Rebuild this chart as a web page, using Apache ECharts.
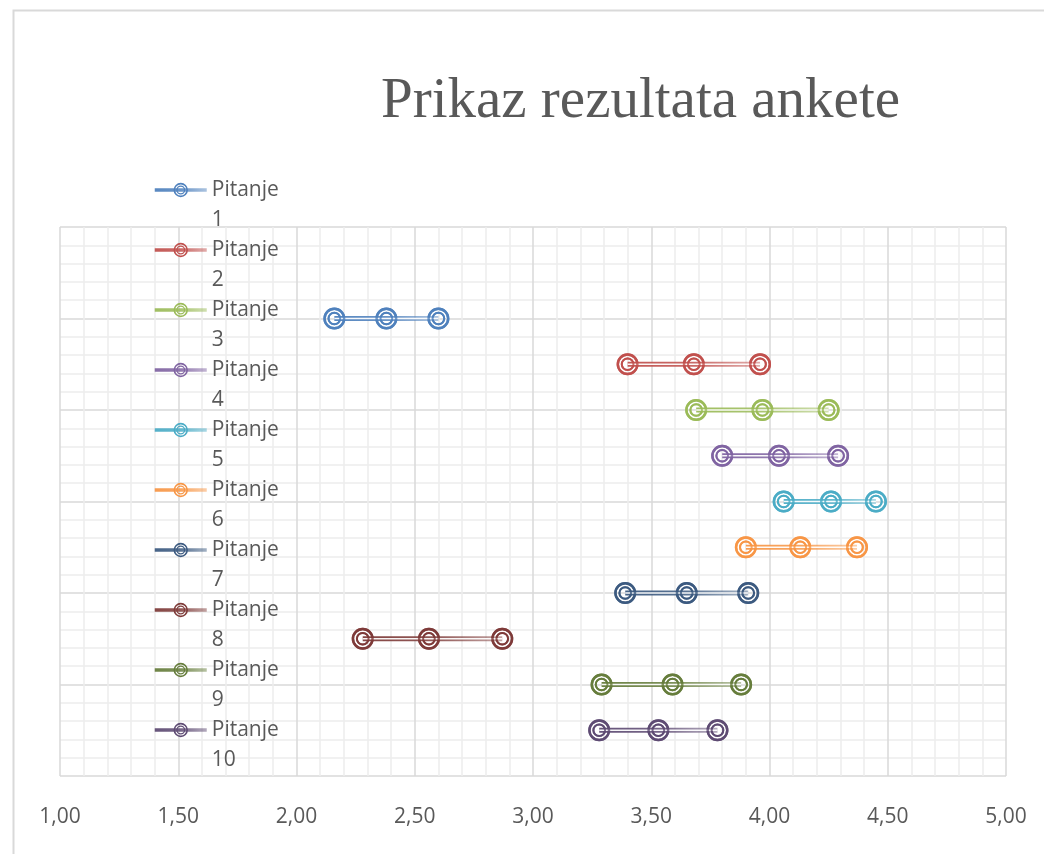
<!DOCTYPE html>
<html>
<head>
<meta charset="utf-8">
<script src="https://cdn.jsdelivr.net/npm/echarts@6/dist/echarts.min.js"></script>
<style>
html,body{margin:0;padding:0;background:#fff;}
#main{width:1044px;height:854px;}
</style>
</head>
<body>
<div id="main"></div>
<script>
// ---- data ----
const questions = ['Pitanje 1','Pitanje 2','Pitanje 3','Pitanje 4','Pitanje 5','Pitanje 6','Pitanje 7','Pitanje 8','Pitanje 9','Pitanje 10'];
const yValues = [1, 1.5, 2, 2.5, 3, 3.5, 4, 4.5, 5, 5.5];
const lowValues  = [2.16, 3.40, 3.69, 3.80, 4.06, 3.90, 3.39, 2.28, 3.29, 3.28];
const midValues  = [2.38, 3.68, 3.97, 4.04, 4.26, 4.13, 3.65, 2.56, 3.59, 3.53];
const highValues = [2.60, 3.96, 4.25, 4.29, 4.45, 4.37, 3.91, 2.87, 3.88, 3.78];
const xTickLabels = ['1,00','1,50','2,00','2,50','3,00','3,50','4,00','4,50','5,00'];
const titleText = 'Prikaz rezultata ankete';
const colors = ['#4F81BD','#C0504D','#9BBB59','#8064A2','#4BACC6','#F79646','#3C5A80','#7E3B39','#667D3C','#5E4B73'];

function rgba(hex, a) {
  const n = parseInt(hex.slice(1), 16);
  return 'rgba(' + ((n >> 16) & 255) + ',' + ((n >> 8) & 255) + ',' + (n & 255) + ',' + a + ')';
}

const ringPath = 'path://' +
  'M50 0A50 50 0 1 1 50 100A50 50 0 1 1 50 0Z' +
  'M50 11A39 39 0 1 0 50 89A39 39 0 1 0 50 11Z' +
  'M50 19A31 31 0 1 1 50 81A31 31 0 1 1 50 19Z' +
  'M50 28A22 22 0 1 0 50 72A22 22 0 1 0 50 28Z';

const series = [];
questions.forEach(function (q, i) {
  const pts = [[lowValues[i], yValues[i]], [midValues[i], yValues[i]], [highValues[i], yValues[i]]];
  const c = colors[i];
  const grad = new echarts.graphic.LinearGradient(0, 0, 1, 0, [
    { offset: 0, color: rgba(c, 0.95) },
    { offset: 0.5, color: rgba(c, 0.85) },
    { offset: 1, color: rgba(c, 0.45) }
  ]);
  series.push({
    name: q, type: 'line', data: pts,
    symbol: ringPath, symbolSize: 22, showSymbol: true,
    color: c,
    itemStyle: { color: c },
    lineStyle: { color: grad, width: 5 },
    z: 2, animation: false, silent: true
  });
  series.push({
    name: '_w' + i, type: 'line', data: pts,
    symbol: 'none',
    lineStyle: { color: 'rgba(255,255,255,0.95)', width: 1.5 },
    z: 3, animation: false, silent: true
  });
  series.push({
    name: '_m' + i, type: 'scatter', data: pts,
    symbol: ringPath, symbolSize: 22,
    itemStyle: { color: c },
    z: 4, animation: false, silent: true
  });
});

const chart = echarts.init(document.getElementById('main'), null, { renderer: 'canvas' });
chart.setOption({
  backgroundColor: '#ffffff',
  animation: false,
  title: {
    text: titleText,
    left: 376, top: 69,
    textStyle: { fontFamily: 'Liberation Serif', fontWeight: 'normal', fontSize: 57, color: '#595959' }
  },
  graphic: [{
    type: 'rect', left: 11, top: 8, z: -10,
    shape: { width: 1100, height: 1000 },
    style: { fill: 'none', stroke: '#d9d9d9', lineWidth: 2 }
  }],
  legend: {
    data: questions,
    orient: 'vertical',
    left: 148, top: 140,
    itemWidth: 52, itemHeight: 18,
    itemGap: -30,
    lineStyle: { width: 3.5 },
    textStyle: { fontFamily: 'Open Sans', fontSize: 21, color: '#595959', lineHeight: 30 },
    formatter: function (name) { return '\u00a0\n' + name.replace(' ', '\n'); }
  },
  grid: { left: 60, right: 38, top: 227, bottom: 78, containLabel: false },
  xAxis: {
    type: 'value', min: 1, max: 5, interval: 0.5,
    axisLine: { show: false }, axisTick: { show: false },
    axisLabel: {
      margin: 31, fontFamily: 'Open Sans', fontSize: 21, color: '#595959',
      formatter: function (v) { return xTickLabels[Math.round((v - 1) / 0.5)]; }
    },
    splitLine: { show: true, lineStyle: { color: '#d9d9d9', width: 1.5 } },
    minorTick: { show: false, splitNumber: 5 },
    minorSplitLine: { show: true, lineStyle: { color: '#ededed', width: 1.5 } }
  },
  yAxis: {
    type: 'value', min: 0, max: 6, interval: 1, inverse: true,
    axisLine: { show: false }, axisTick: { show: false }, axisLabel: { show: false },
    splitLine: { show: true, lineStyle: { color: '#d9d9d9', width: 1.5 } },
    minorTick: { show: false, splitNumber: 5 },
    minorSplitLine: { show: true, lineStyle: { color: '#ededed', width: 1.5 } }
  },
  series: series
});
</script>
</body>
</html>
